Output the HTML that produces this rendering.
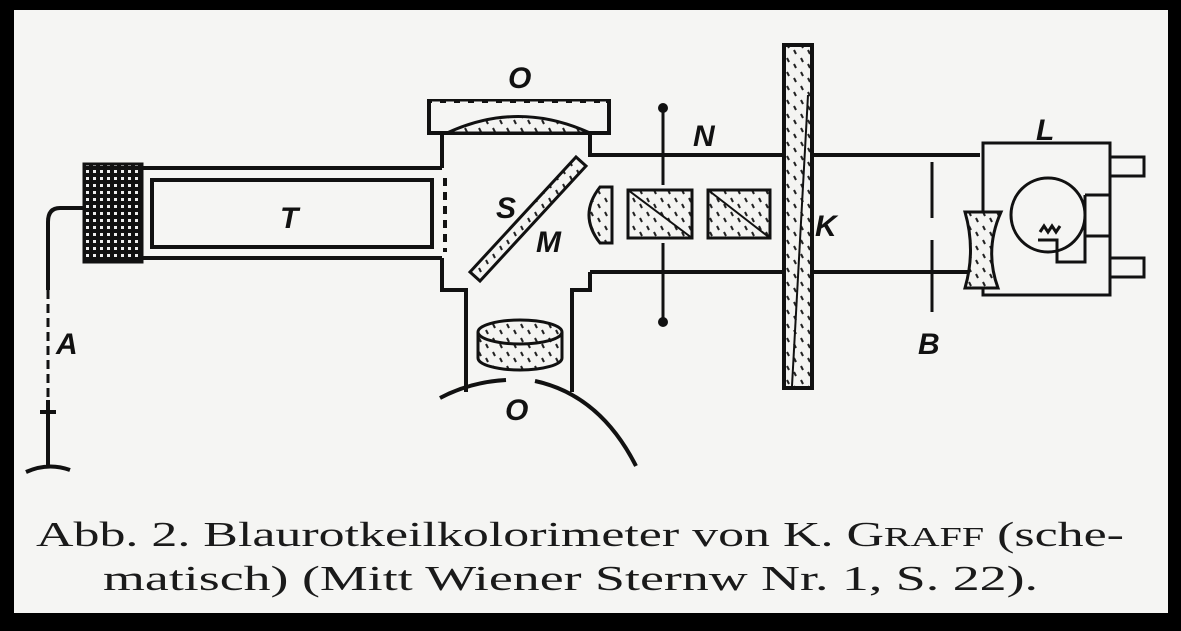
<!DOCTYPE html>
<html><head><meta charset="utf-8"><style>
html,body{margin:0;padding:0;background:#000;}
svg{display:block}
.lbl{font-family:"Liberation Sans",sans-serif;font-style:italic;font-weight:bold;font-size:30px;fill:#111}
.cap{font-family:"Liberation Serif",serif;font-size:35px;fill:#1a1a1a}
</style></head><body>
<svg width="1181" height="631" viewBox="0 0 1181 631" xmlns="http://www.w3.org/2000/svg">
<defs>
<pattern id="hatch" width="14" height="14" patternUnits="userSpaceOnUse">
<rect width="14" height="14" fill="#f4f4f2"/>
<line x1="3" y1="2" x2="5" y2="6" stroke="#222" stroke-width="2"/>
<line x1="10" y1="8" x2="12" y2="12" stroke="#222" stroke-width="2"/>
</pattern>
<pattern id="grid" width="7" height="7" patternUnits="userSpaceOnUse">
<rect width="7" height="7" fill="#111"/>
<rect x="2" y="2" width="3" height="3" fill="#eee"/>
</pattern>
</defs>
<rect x="14" y="10" width="1154" height="603" fill="#f5f5f3"/>
<g fill="none" stroke="#111" stroke-width="4">
<rect x="84" y="164" width="58" height="98" fill="url(#grid)" stroke-width="3"/>
<path d="M142 168 H442 M142 258 H442"/>
<rect x="152" y="180" width="280" height="67"/>
<line x1="445" y1="178" x2="445" y2="252" stroke-dasharray="8,6"/>
<path d="M442 135 V168 M442 258 V290 H466 V392 M590 135 V155 H980 M590 272 H980 M590 272 V290 H572 V392"/>
<rect x="429" y="101" width="180" height="32" fill="#f5f5f3"/>
<line x1="432" y1="103" x2="606" y2="103" stroke="#f5f5f3" stroke-width="3" stroke-dasharray="8,6"/>
<path d="M447 133 Q518 100 590 133 Z" fill="url(#hatch)" stroke-width="3"/>
<path d="M470 272 L576 157 L586 166 L480 281 Z" fill="url(#hatch)" stroke-width="3"/>
<path d="M600 187 H612 V243 H600 Q578 215 600 187 Z" fill="url(#hatch)" stroke-width="3"/>
<rect x="628" y="190" width="64" height="48" fill="url(#hatch)" stroke-width="3"/>
<line x1="628" y1="190" x2="692" y2="238" stroke-width="2"/>
<rect x="708" y="190" width="62" height="48" fill="url(#hatch)" stroke-width="3"/>
<line x1="708" y1="190" x2="770" y2="238" stroke-width="2"/>
<line x1="663" y1="110" x2="663" y2="185" stroke-width="3"/>
<line x1="663" y1="243" x2="663" y2="322" stroke-width="3"/>
<rect x="784" y="45" width="28" height="343" fill="url(#hatch)" stroke-width="4"/>
<line x1="808" y1="95" x2="792" y2="386" stroke-width="2"/>
<path d="M932 162 V218 M932 240 V312" stroke-width="3"/>
<rect x="983" y="143" width="127" height="152" fill="#f5f5f3" stroke-width="3"/>
<path d="M965 212 H1001 Q984 250 998 288 H965 Q976 250 965 212 Z" fill="url(#hatch)" stroke-width="3"/>
<circle cx="1048" cy="215" r="37" fill="#f5f5f3" stroke-width="3"/>
<path d="M1085 195 H1110 M1085 236 H1110 M1085 195 V262 H1057 V240 H1038 M1040 232 l4 -6 4 6 4 -6 4 6 4 -6" stroke-width="3"/>
<path d="M1110 157 H1144 V176 H1110 M1110 258 H1144 V277 H1110" stroke-width="3"/>
<path d="M478 332 V358 A42 12 0 0 0 562 358 V332" fill="url(#hatch)" stroke-width="3"/>
<ellipse cx="520" cy="332" rx="42" ry="12" fill="url(#hatch)" stroke-width="3"/>
<path d="M440 398 Q470 382 506 380 M535 381 Q600 395 636 466" stroke-width="4"/>
<path d="M84 208 H60 Q48 208 48 222 V290" stroke-width="4"/>
<line x1="48" y1="290" x2="48" y2="400" stroke-dasharray="9,5" stroke-width="3"/>
<path d="M48 400 V468 M40 412 H56 M26 472 Q48 462 70 470" stroke-width="4"/>
</g>
<circle cx="663" cy="108" r="5" fill="#111"/>
<circle cx="663" cy="322" r="5" fill="#111"/>
<text class="lbl" x="508" y="88">O</text>
<text class="lbl" x="280" y="228">T</text>
<text class="lbl" x="496" y="218">S</text>
<text class="lbl" x="536" y="252">M</text>
<text class="lbl" x="693" y="146">N</text>
<text class="lbl" x="815" y="236">K</text>
<text class="lbl" x="1036" y="140">L</text>
<text class="lbl" x="918" y="354">B</text>
<text class="lbl" x="56" y="354">A</text>
<text class="lbl" x="505" y="420">O</text>
<text class="cap" x="36" y="546" textLength="1088" lengthAdjust="spacingAndGlyphs">Abb. 2. Blaurotkeilkolorimeter von K. G<tspan font-size="27">RAFF</tspan> (sche-</text>
<text class="cap" x="103" y="590" textLength="935" lengthAdjust="spacingAndGlyphs">matisch) (Mitt Wiener Sternw Nr. 1, S. 22).</text>
</svg>
</body></html>
